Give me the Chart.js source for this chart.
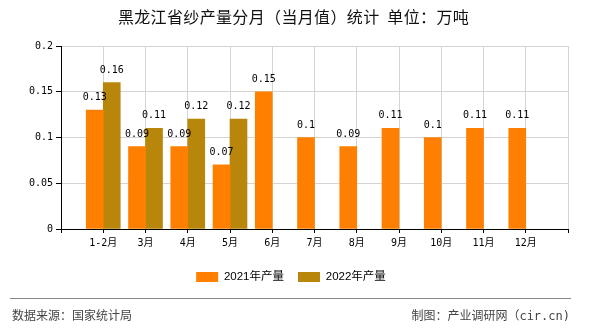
<!DOCTYPE html>
<html>
<head>
<meta charset="utf-8">
<script src="https://cdn.jsdelivr.net/npm/chart.js@4"></script>
<style>
  html, body { margin: 0; padding: 0; background: #fff; }
  #wrap { position: relative; width: 590px; height: 330px; overflow: hidden; }
  #title { position: absolute; left: 0; width: 587px; top: 7px; text-align: center;
    font: 16px/18px "Noto Sans CJK SC", sans-serif; letter-spacing: 0.35px; color: #111; white-space: nowrap; }
  #rule { position: absolute; left: 10px; top: 298px; width: 561px; height: 1px; background: #888; }
  .foot { position: absolute; top: 308px; font: 12px/16px "DejaVu Sans Mono", "Noto Sans CJK SC", monospace; color: #444; white-space: nowrap; }
  #src { left: 12px; }
  #made { right: 20px; }
  canvas { position: absolute; left: 0; top: 0; }
</style>
</head>
<body>
<div id="wrap">
  <canvas id="c" width="590" height="330"></canvas>
  <div id="title">黑龙江省纱产量分月（当月值）统计&nbsp; 单位：万吨</div>
  <div id="rule"></div>
  <div class="foot" id="src">数据来源：国家统计局</div>
  <div class="foot" id="made">制图：产业调研网（cir.cn)</div>
</div>
<script>
// ---- data ----
const categories = ['1-2月', '3月', '4月', '5月', '6月', '7月', '8月', '9月', '10月', '11月', '12月'];
const series2021 = [0.13, 0.09, 0.09, 0.07, 0.15, 0.1, 0.09, 0.11, 0.1, 0.11, 0.11];
const series2022 = [0.16, 0.11, 0.12, 0.12, null, null, null, null, null, null, null];
const seriesNames = ['2021年产量', '2022年产量'];
const yTicks = [0, 0.05, 0.1, 0.15, 0.2];

// padded with empty slots at both ends so the axis spans 12 intervals
const labels = [''].concat(categories, ['']);
const pad = arr => [null].concat(arr, [null]);

const monoFont = { family: "'DejaVu Sans Mono', 'Noto Sans CJK SC', monospace", size: 10 };

const valueLabels = {
  id: 'valueLabels',
  afterDatasetsDraw(chart) {
    const ctx = chart.ctx;
    ctx.save();
    ctx.font = "10px 'DejaVu Sans Mono', monospace";
    ctx.fillStyle = '#000';
    ctx.textAlign = 'center';
    ctx.textBaseline = 'middle';
    chart.data.datasets.forEach((ds, di) => {
      const meta = chart.getDatasetMeta(di);
      meta.data.forEach((el, i) => {
        const v = ds.data[i];
        if (v === null || v === undefined) return;
        ctx.fillText(String(v), el.x, el.y - 12.5);
      });
    });
    ctx.restore();
  }
};

new Chart(document.getElementById('c'), {
  type: 'bar',
  data: {
    labels: labels,
    datasets: [
      { label: seriesNames[0], data: pad(series2021), backgroundColor: '#FF8000', borderWidth: 0, barThickness: 17 },
      { label: seriesNames[1], data: pad(series2022), backgroundColor: '#B8860B', borderWidth: 0, barThickness: 17 }
    ]
  },
  plugins: [valueLabels],
  options: {
    responsive: false,
    animation: false,
    devicePixelRatio: 1,
    layout: { padding: { top: 46, right: 15, left: 7, bottom: 37.25 } },
    plugins: {
      title: { display: false },
      tooltip: { enabled: false },
      legend: {
        position: 'bottom',
        labels: {
          boxWidth: 22, boxHeight: 10, padding: 14, color: '#000',
          font: { family: "'Liberation Sans', 'Noto Sans CJK SC', sans-serif", size: 11.5 }
        }
      }
    },
    scales: {
      x: {
        type: 'category',
        offset: false,
        grid: {
          offset: false,
          color: ctx => (ctx.index === 0 ? '#000' : '#d4d4d4'),
          tickColor: '#000',
          tickLength: 4,
          lineWidth: 1
        },
        border: { color: '#000', width: 1 },
        ticks: { autoSkip: false, maxRotation: 0, minRotation: 0, padding: 4, color: '#000', font: monoFont },
        afterFit: s => { s.height = 28.25; }
      },
      y: {
        min: 0, max: 0.2,
        afterBuildTicks: s => { s.ticks = yTicks.map(v => ({ value: v })); },
        grid: {
          color: ctx => (ctx.tick && ctx.tick.value === 0 ? '#000' : '#d4d4d4'),
          tickColor: '#000',
          tickLength: 5
        },
        border: { color: '#000', width: 1 },
        ticks: { padding: 3, color: '#000', font: monoFont, callback: v => String(v) },
        afterFit: s => { s.width = 54; }
      },
      spacer: {
        type: 'linear',
        position: 'right',
        display: true,
        grid: { display: false, drawTicks: false },
        border: { display: false },
        ticks: { display: false },
        afterFit: s => { s.width = 7; }
      }
    }
  }
});
</script>
</body>
</html>
